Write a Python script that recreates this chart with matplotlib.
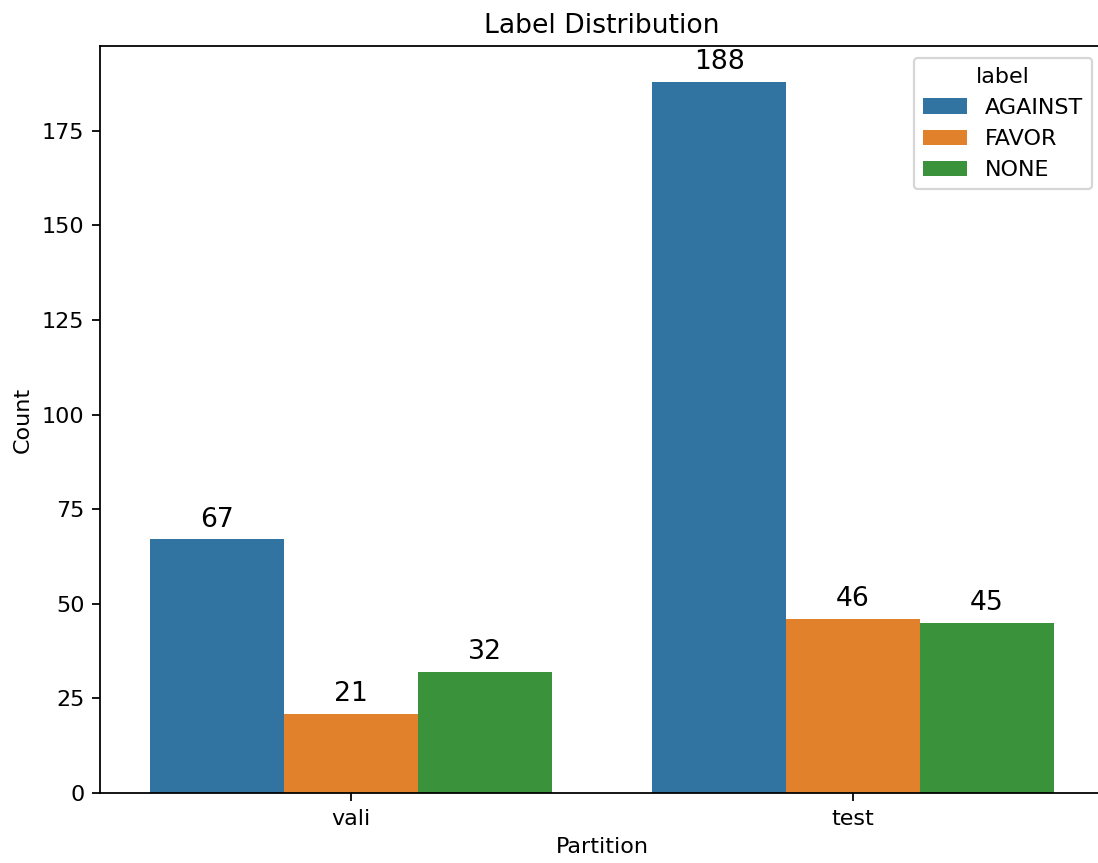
import numpy as np
import matplotlib.pyplot as plt

# counts per partition and label
partitions = ['vali', 'test']
labels = ['AGAINST', 'FAVOR', 'NONE']
against = [67, 188]
favor = [21, 46]
none = [32, 45]
colors = ['#3274a1', '#e1812c', '#3a923a']

W, H = 1098, 863
DPI = 160
fig = plt.figure(figsize=(W / DPI, H / DPI), dpi=DPI)
ax = fig.add_axes([100 / W, 1 - 793 / H, 1004 / W, 747 / H])

x = np.arange(len(partitions))
width = 0.8 / 3
for i, (name, vals) in enumerate(zip(labels, [against, favor, none])):
    bars = ax.bar(x + (i - 1) * width, vals, width, color=colors[i], label=name)
    ax.bar_label(bars, padding=3, fontsize=12)

ax.set_xticks(x)
ax.set_xticklabels(partitions)
ax.set_xlim(-0.5, 1.5)
ax.set_ylim(0, 188 * 1.05)
ax.set_xlabel('Partition')
ax.set_ylabel('Count')
ax.set_title('Label Distribution')
ax.legend(title='label', loc='upper right', bbox_to_anchor=(1092 / W, 1 - 58 / H),
          bbox_transform=fig.transFigure, borderaxespad=0)

fig.savefig('out.png', dpi=DPI)
